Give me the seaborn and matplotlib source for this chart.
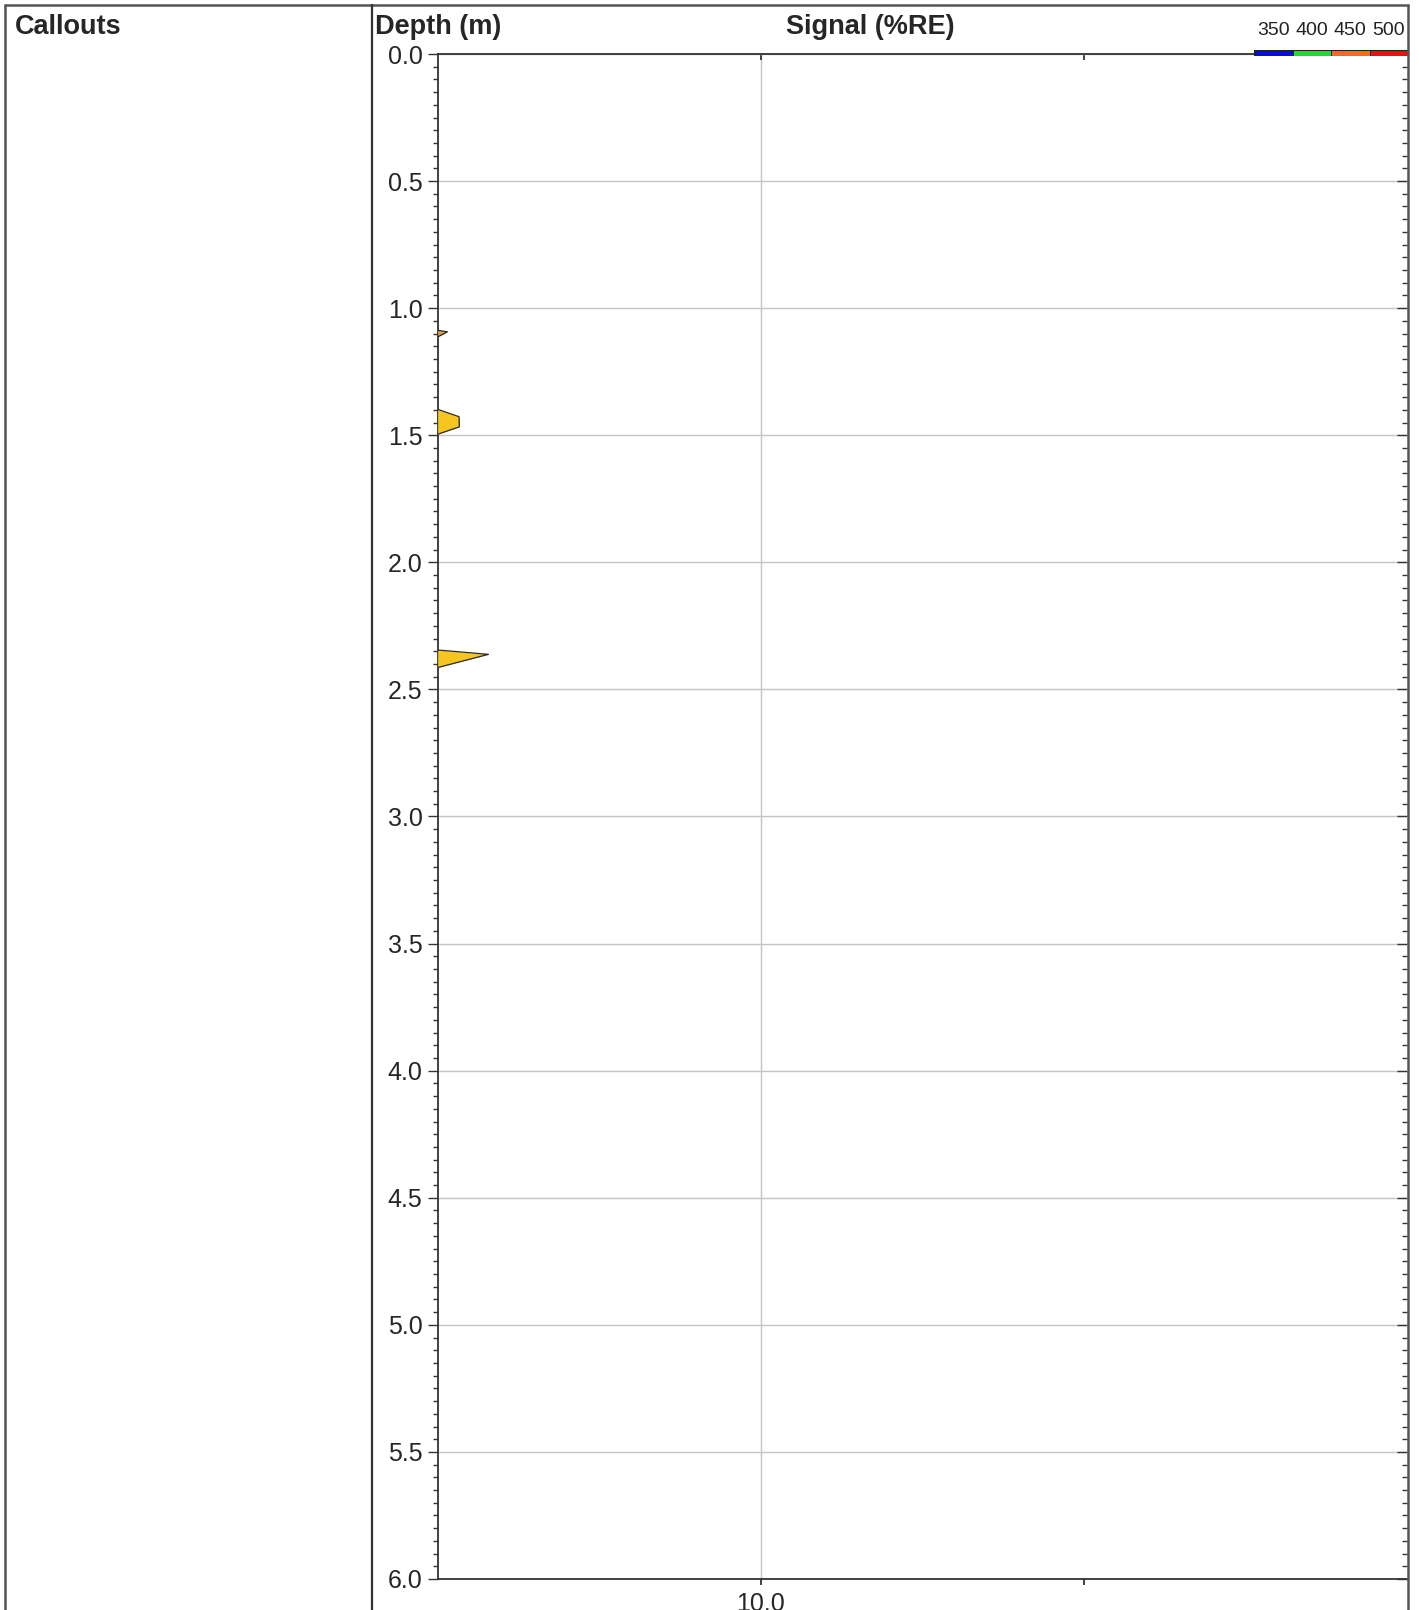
import numpy as np
import pandas as pd
import matplotlib
matplotlib.use("Agg")
import matplotlib.pyplot as plt
from matplotlib.colors import ListedColormap
from matplotlib.lines import Line2D
from matplotlib.ticker import MultipleLocator, FormatStrFormatter
import seaborn as sns

# signal spikes (depth in m, signal in %RE)
spike_ids = ["s1", "s1", "s1", "s2", "s2", "s2", "s2", "s3", "s3", "s3", "s3"]
spike_depth = [1.087, 1.093, 1.113, 1.398, 1.427, 1.467, 1.496, 2.345, 2.349, 2.362, 2.414]
spike_signal = [0.0, 0.30, 0.0, 0.0, 0.66, 0.67, 0.0, 0.0, 0.38, 1.57, 0.0]
spike_fill = {"s1": "#D9A044", "s2": "#F6C520", "s3": "#F6C520"}

legend_values = [350, 400, 450, 500]
legend_colors = ["#0A0AE6", "#1EE01E", "#FF6A13", "#EE1010"]

depth_range = (0.0, 6.0)
signal_range = (0.0, 30.0)
signal_ticks = [10.0, 20.0]
signal_ticklabels = ["10.0", ""]

df = pd.DataFrame({"spike": spike_ids, "depth": spike_depth, "signal": spike_signal})

sns.set_style("white")
plt.rcParams["font.family"] = ["Liberation Sans", "DejaVu Sans"]

W, H = 1419, 1610
fig = plt.figure(figsize=(W / 100, H / 100), dpi=100)

def fx(px):
    return px / W

def fy(py):
    return 1 - py / H

top_px, bot_px = 54, 1579
left_px, right_px = 437.7, 1407
ax = fig.add_axes([fx(left_px), fy(bot_px), fx(right_px - left_px), (bot_px - top_px) / H])

for sid, g in df.groupby("spike"):
    ax.fill_betweenx(g["depth"], 0, g["signal"], color=spike_fill[sid], zorder=3, linewidth=0)
sns.lineplot(data=df, x="signal", y="depth", units="spike", estimator=None, sort=False,
             orient="y", color="#2a2a2a", linewidth=0.9, ax=ax, zorder=4, legend=False)

ax.set_xlim(*signal_range)
ax.set_ylim(depth_range[1], depth_range[0])
ax.set_xlabel("")
ax.set_ylabel("")

ax.yaxis.set_major_locator(MultipleLocator(0.5))
ax.yaxis.set_minor_locator(MultipleLocator(0.05))
ax.yaxis.set_major_formatter(FormatStrFormatter("%.1f"))
ax.set_xticks(signal_ticks)
ax.set_xticklabels(signal_ticklabels)

ax.grid(True, axis="y", which="major", color="#c4c4c4", linewidth=1.0)
ax.set_axisbelow(True)
for x in signal_ticks[:1]:
    ax.axvline(x, color="#c4c4c4", linewidth=1.0, zorder=0)

ax.tick_params(axis="y", which="major", direction="out", length=7, width=1.0,
               color="#333333", labelsize=18, pad=4, left=True, right=True)
ax.tick_params(axis="y", which="minor", direction="out", length=3.8, width=1.0,
               color="#333333", left=True, right=True)
ax.tick_params(axis="x", which="major", direction="out", length=4, width=1.3,
               color="#333333", labelsize=18, pad=5, top=True, bottom=True)

# right side ticks and top ticks point inwards
for t in ax.yaxis.get_major_ticks() + ax.yaxis.get_minor_ticks():
    t.tick2line.set_marker(matplotlib.markers.TICKLEFT)
for t in ax.xaxis.get_major_ticks():
    t.tick2line.set_marker(matplotlib.markers.TICKDOWN)

for side in ["top", "bottom", "left"]:
    ax.spines[side].set_color("#333333")
    ax.spines[side].set_linewidth(1.3)
ax.spines["right"].set_visible(False)

# depth column: inward ticks on the divider
axd = fig.add_axes([fx(371.5), fy(bot_px), fx(left_px - 371.5), (bot_px - top_px) / H], sharey=ax)
axd.set_facecolor("none")
for s in axd.spines.values():
    s.set_visible(False)
axd.set_xticks([])
axd.tick_params(axis="y", which="major", direction="in", length=6, width=1.0,
                color="#333333", labelleft=False)
axd.tick_params(axis="y", which="minor", direction="in", length=3.8, width=1.0,
                color="#333333")

# colour legend
axl = fig.add_axes([fx(1254), fy(56), fx(1408 - 1254), 6 / H])
sns.heatmap(np.array([legend_values]), cmap=ListedColormap(legend_colors), cbar=False,
            linewidths=0.5, linecolor="#202020", ax=axl,
            xticklabels=[str(v) for v in legend_values], yticklabels=False)
axl.xaxis.tick_top()
axl.tick_params(axis="x", length=0, labelsize=14, pad=8, labelcolor="#222222", rotation=0)
axl.set_xlabel("")
axl.set_ylabel("")

# frame lines
border = "#555555"
fig.add_artist(Line2D([fx(5), fx(1408)], [fy(5), fy(5)], color=border, linewidth=1.8))
fig.add_artist(Line2D([fx(5), fx(5)], [fy(5), 0], color=border, linewidth=1.8))
fig.add_artist(Line2D([fx(1408), fx(1408)], [fy(5), 0], color=border, linewidth=1.8))
fig.add_artist(Line2D([fx(371.5), fx(371.5)], [fy(5), 0], color="#333333", linewidth=1.6))

# headers
fig.text(fx(15), fy(34), "Callouts", fontsize=19.5, fontweight="bold", va="baseline", ha="left")
fig.text(fx(375), fy(34), "Depth (m)", fontsize=19.5, fontweight="bold", va="baseline", ha="left")
fig.text(fx(870), fy(34), "Signal (%RE)", fontsize=19.5, fontweight="bold", va="baseline", ha="center")

fig.savefig("out.png", dpi=100)
